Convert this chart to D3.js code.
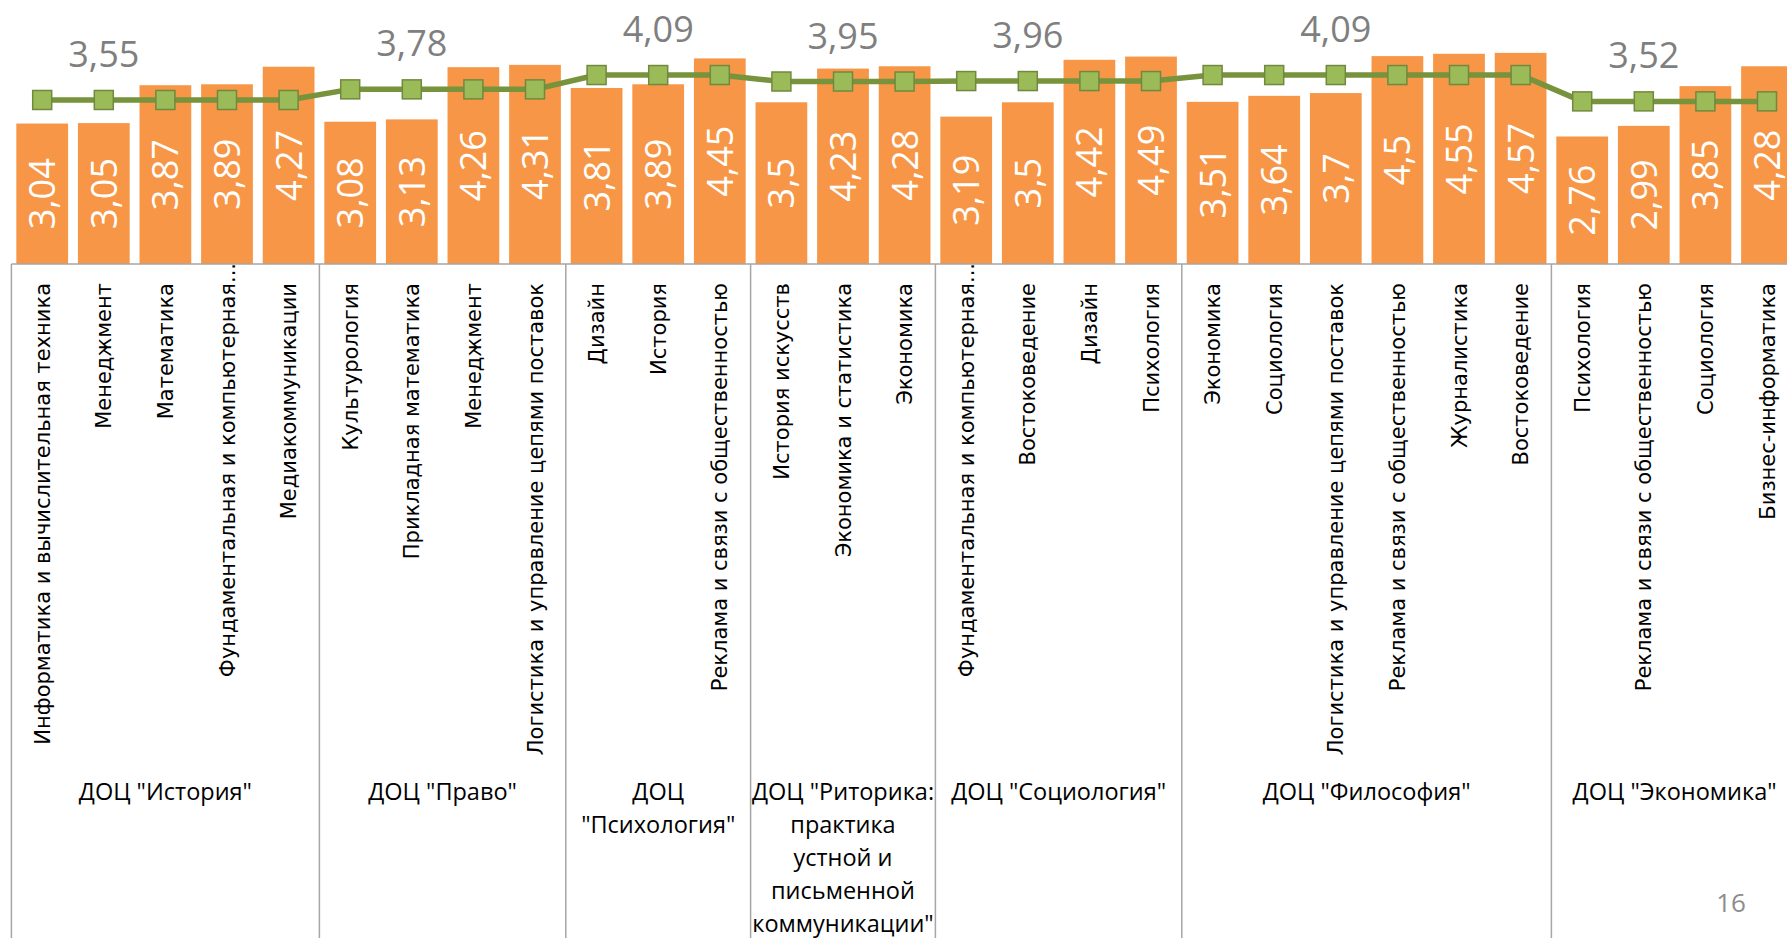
<!DOCTYPE html>
<html><head><meta charset="utf-8">
<script src="https://cdn.jsdelivr.net/npm/d3@7"></script>
<style>body{margin:0;background:#fff;} svg{display:block}</style>
</head><body><svg id="c" width="1787" height="938"></svg>
<script>
// ---- data ----
const groupLabels = [
  ["ДОЦ \"История\""],
  ["ДОЦ \"Право\""],
  ["ДОЦ", "\"Психология\""],
  ["ДОЦ \"Риторика:", "практика", "устной и", "письменной", "коммуникации\""],
  ["ДОЦ \"Социология\""],
  ["ДОЦ \"Философия\""],
  ["ДОЦ \"Экономика\""]
];
const groupAverages = [3.55, 3.78, 4.09, 3.95, 3.96, 4.09, 3.52];
const groupAverageLabelAt = [1, 1, 1, 1, 1, 2, 1];
const categories = [
  ["Информатика и вычислительная техника", "Менеджмент", "Математика", "Фундаментальная и компьютерная...", "Медиакоммуникации"],
  ["Культурология", "Прикладная математика", "Менеджмент", "Логистика и управление цепями поставок"],
  ["Дизайн", "История", "Реклама и связи с общественностью"],
  ["История искусств", "Экономика и статистика", "Экономика"],
  ["Фундаментальная и компьютерная...", "Востоковедение", "Дизайн", "Психология"],
  ["Экономика", "Социология", "Логистика и управление цепями поставок", "Реклама и связи с общественностью", "Журналистика", "Востоковедение"],
  ["Психология", "Реклама и связи с общественностью", "Социология", "Бизнес-информатика"]
];
const values = [
  [3.04, 3.05, 3.87, 3.89, 4.27],
  [3.08, 3.13, 4.26, 4.31],
  [3.81, 3.89, 4.45],
  [3.5, 4.23, 4.28],
  [3.19, 3.5, 4.42, 4.49],
  [3.51, 3.64, 3.7, 4.5, 4.55, 4.57],
  [2.76, 2.99, 3.85, 4.28]
];
const pageNumber = "16";

// ---- build flat rows ----
const rows = [];
categories.forEach((cats, g) => cats.forEach((c, j) => rows.push({
  i: rows.length, g, j, cat: c, v: values[g][j], avg: groupAverages[g]
})));

const W = 1787, H = 938;
const svg = d3.select("#c");
const fmt = v => String(v).replace(".", ",");

const x0 = 11.4, step = 61.6;
const x = d3.scaleBand().domain(rows.map(d => d.i))
  .range([x0, x0 + step * rows.length]).paddingInner(0.16).paddingOuter(0.08);
const y = d3.scaleLinear().domain([0, 6]).range([264, 264 - 6 * 46.2]);
const cx = i => x(i) + x.bandwidth() / 2;
const outer = (x.step() - x.bandwidth()) / 2;

// bars
svg.append("g").selectAll("rect").data(rows).join("rect")
  .attr("x", d => x(d.i)).attr("width", x.bandwidth())
  .attr("y", d => y(d.v)).attr("height", d => y(0) - y(d.v))
  .attr("fill", "#f79646");

// value labels inside bars
svg.append("g").selectAll("text").data(rows).join("text")
  .attr("transform", d => `translate(${cx(d.i)},${(y(d.v) + y(0)) / 2}) rotate(-90)`)
  .attr("text-anchor", "middle").attr("dy", "0.36em")
  .attr("font-family", "'Open Sans', sans-serif").attr("font-size", 36)
  .attr("fill", "#fff").text(d => fmt(d.v));

// axis line
svg.append("g").attr("transform", `translate(0,${y(0)})`)
  .call(d3.axisBottom(x).tickValues([]).tickSizeOuter(0))
  .call(g => g.select(".domain").attr("stroke", "#a6a6a6").attr("stroke-width", 1.5)
    .attr("d", `M${x0},0H${W}`));

// group separators
let start = 0;
const bounds = [];
categories.forEach((cats, g) => { bounds.push({g, s: start, n: cats.length}); start += cats.length; });
svg.append("g").selectAll("line").data(bounds).join("line")
  .attr("x1", d => x(d.s) - outer).attr("x2", d => x(d.s) - outer)
  .attr("y1", y(0)).attr("y2", H)
  .attr("stroke", "#a6a6a6").attr("stroke-width", 1.5);

// category labels
svg.append("g").selectAll("text").data(rows).join("text")
  .attr("transform", d => `translate(${cx(d.i)},${d.cat.endsWith("...") ? 263 : 283}) rotate(-90)`)
  .attr("text-anchor", "end").attr("dy", "0.36em")
  .attr("font-family", "'DejaVu Sans', sans-serif").attr("font-size", 21)
  .attr("fill", "#000").text(d => d.cat);

// group labels
const gl = svg.append("g").selectAll("text").data(bounds).join("text")
  .attr("text-anchor", "middle")
  .attr("font-family", "'Open Sans', sans-serif").attr("font-size", 23.5).attr("fill", "#000");
gl.each(function(d) {
  const mid = x(d.s) - outer + d.n * x.step() / 2;
  d3.select(this).selectAll("tspan").data(groupLabels[d.g]).join("tspan")
    .attr("x", mid).attr("y", (t, k) => 792 + k * 33).attr("dy", "0.36em").text(t => t);
});

// average line
const line = d3.line().x(d => cx(d.i)).y(d => y(d.avg));
svg.append("path").datum(rows).attr("d", line)
  .attr("fill", "none").attr("stroke", "#77933c").attr("stroke-width", 5.5).attr("stroke-linejoin", "round");
const ms = 19;
svg.append("g").selectAll("rect").data(rows).join("rect")
  .attr("x", d => cx(d.i) - ms / 2).attr("y", d => y(d.avg) - ms / 2)
  .attr("width", ms).attr("height", ms)
  .attr("fill", "#9bbb59").attr("stroke", "#71893f").attr("stroke-width", 1.5);

// average labels
const avgRows = rows.filter(d => d.j === groupAverageLabelAt[d.g]);
svg.append("g").selectAll("text").data(avgRows).join("text")
  .attr("x", d => cx(d.i)).attr("y", d => y(d.avg) - 33)
  .attr("text-anchor", "middle")
  .attr("font-family", "'Open Sans', sans-serif").attr("font-size", 36)
  .attr("fill", "#7f7f7f").text(d => fmt(d.avg));

// page number
svg.append("text").attr("x", 1731).attr("y", 912).attr("text-anchor", "middle")
  .attr("font-family", "'Open Sans', sans-serif").attr("font-size", 26)
  .attr("fill", "#8c8c8c").text(pageNumber);
</script>
</body></html>
